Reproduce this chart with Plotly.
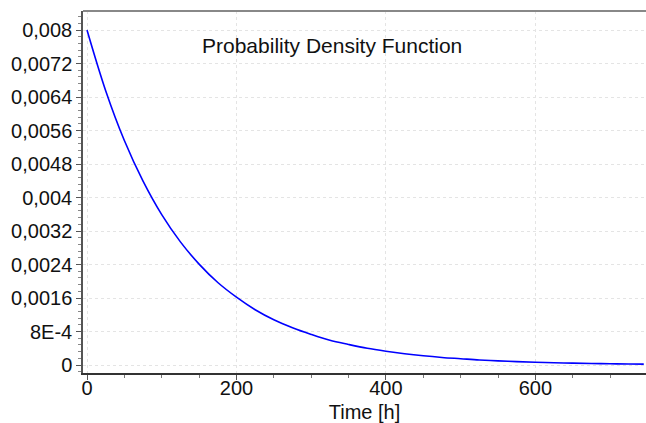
import plotly.graph_objects as go

# Time [h] and density values
time_h = [0, 25, 50, 75, 100, 125, 150, 175, 200, 225, 250, 275, 300, 325, 350,
          375, 400, 425, 450, 475, 500, 525, 550, 575, 600, 625, 650, 675, 700, 725, 745]
density = [0.00800, 0.00655, 0.00536, 0.00439, 0.00359, 0.00294, 0.00241, 0.00197,
           0.00162, 0.00132, 0.00108, 0.00089, 0.00073, 0.00059, 0.00049, 0.00040,
           0.00033, 0.00027, 0.00022, 0.00018, 0.00015, 0.00012, 0.000098, 0.000081,
           0.000066, 0.000054, 0.000044, 0.000036, 0.000030, 0.000024, 0.000021]

y_tick_vals = [0, 0.0008, 0.0016, 0.0024, 0.0032, 0.004, 0.0048, 0.0056, 0.0064, 0.0072, 0.008]
y_tick_text = ["0", "8E-4", "0,0016", "0,0024", "0,0032", "0,004", "0,0048", "0,0056",
               "0,0064", "0,0072", "0,008"]
x_tick_vals = [0, 200, 400, 600]
title_text = "Probability Density Function"
x_title = "Time [h]"

FONT = "Liberation Sans, Arial, sans-serif"

fig = go.Figure()
fig.add_trace(go.Scatter(x=time_h, y=density, mode="lines",
                         line=dict(color="#0000ff", width=1.6, shape="spline"),
                         hoverinfo="skip", showlegend=False))

fig.update_layout(
    width=646, height=423, autosize=False,
    margin=dict(l=83, r=0, t=11, b=50, autoexpand=False),
    paper_bgcolor="white", plot_bgcolor="white",
    font=dict(family=FONT, size=20, color="#111111"),
    showlegend=False,
    xaxis=dict(
        range=[-5.35, 748], tickvals=x_tick_vals,
        showgrid=True, gridcolor="#e4e4e4", griddash="dot", gridwidth=1,
        showline=True, linecolor="#333333", linewidth=1.5,
        ticks="outside", ticklen=5, tickcolor="#555555",
        ticklabelstandoff=-9,
        minor=dict(dtick=50, tick0=0, ticks="outside", ticklen=3, tickcolor="#777777", showgrid=False),
        zeroline=False,
        title=dict(text=x_title, font=dict(family=FONT, size=20), standoff=12),
        tickfont=dict(family=FONT, size=20),
    ),
    yaxis=dict(
        range=[-0.000191, 0.008454], tickvals=y_tick_vals, ticktext=y_tick_text,
        showgrid=True, gridcolor="#e4e4e4", griddash="dot", gridwidth=1,
        showline=True, linecolor="#555555", linewidth=1.5,
        ticks="outside", ticklen=5, tickcolor="#555555",
        minor=dict(dtick=0.00016, tick0=0, ticks="outside", ticklen=3, tickcolor="#888888", showgrid=False),
        zeroline=False,
        tickfont=dict(family=FONT, size=20),
    ),
    shapes=[dict(type="line", xref="paper", yref="paper", x0=0, x1=1, y0=1, y1=1,
                 line=dict(color="#888888", width=2))],
    annotations=[dict(text=title_text, xref="paper", yref="paper", x=0.442, y=0.906,
                      showarrow=False, xanchor="center", yanchor="middle",
                      font=dict(family=FONT, size=21, color="#111111"))],
)

fig.write_html("out.html", config={"responsive": False, "displayModeBar": False},
               post_script="document.body.style.margin='0';document.body.style.overflow='hidden';")
